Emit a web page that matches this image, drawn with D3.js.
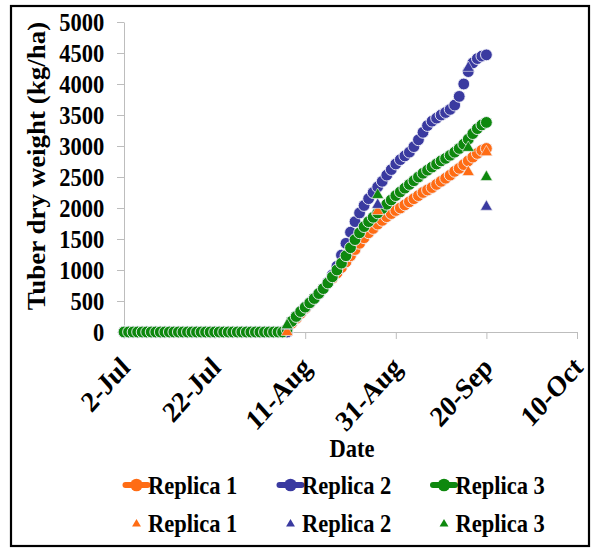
<!DOCTYPE html>
<html><head><meta charset="utf-8">
<script src="https://cdn.jsdelivr.net/npm/d3@7"></script>
<style>body{margin:0;background:#fff}svg{display:block}
svg text{font-family:"Liberation Serif",serif !important;font-weight:bold}</style>
</head><body><svg id="c" width="592" height="548"></svg>
<script>
// ---- data ----
const startDate = "2-Jul-2015";   // first daily value
const replica1 = [0,0,0,0,0,0,0,0,0,0,0,0,0,0,0,0,0,0,0,0,0,0,0,0,0,0,0,0,0,0,0,0,0,0,0,0,
  0,140,220,300,380,460,540,620,700,790,870,
  950,1040,1130,1230,1330,1430,1520,1600,1670,1740,
  1800,1860,1910,1960,2000,2050,2100,2150,2200,2250,
  2290,2330,2380,2430,2480,2530,2590,2640,2700,2760,
  2820,2880,2930,2960];
const replica2 = [0,0,0,0,0,0,0,0,0,0,0,0,0,0,0,0,0,0,0,0,0,0,0,0,0,0,0,0,0,0,0,0,0,0,0,0,
  0,170,250,330,400,470,540,620,700,800,920,
  1060,1240,1430,1610,1780,1920,2040,2150,2250,2340,
  2430,2530,2620,2710,2780,2840,2900,2990,3100,3220,
  3330,3400,3450,3500,3540,3590,3660,3800,4000,4200,
  4340,4410,4450,4470];
const replica3 = [0,0,0,0,0,0,0,0,0,0,0,0,0,0,0,0,0,0,0,0,0,0,0,0,0,0,0,0,0,0,0,0,0,0,0,0,
  40,170,250,330,400,470,540,620,700,790,890,
  1000,1110,1230,1360,1490,1600,1700,1780,1850,1920,
  1990,2060,2130,2200,2260,2320,2380,2440,2500,2560,
  2610,2660,2710,2760,2800,2850,2900,2960,3030,3110,
  3200,3280,3340,3380];
const measDates = ["7-Aug-2015","27-Aug-2015","16-Sep-2015","20-Sep-2015"];
const measured1 = [0,1950,2580,2900];
const measured2 = [100,2050,4260,2020];
const measured3 = [110,2210,2970,2500];
const xTickLabels = ["2-Jul","22-Jul","11-Aug","31-Aug","20-Sep","10-Oct"];
const yTicks = [0,500,1000,1500,2000,2500,3000,3500,4000,4500,5000];
const seriesNames = ["Replica 1","Replica 2","Replica 3"];
const seriesColors = ["#FF6C14","#3A3AA0","#0E880E"];
const yTitle = "Tuber dry weight (kg/ha)";
const xTitle = "Date";

// ---- setup ----
const parse = d3.utcParse("%d-%b-%Y");
const svg = d3.select("#c");
const FONT = "Liberation Serif, serif";
const SQ = 0.9; // horizontal squeeze of text seen in reference

svg.append("rect").attr("x",11).attr("y",6).attr("width",578).attr("height",540)
  .attr("fill","none").attr("stroke","#000").attr("stroke-width",2.2);

const x = d3.scaleUtc()
  .domain([parse(xTickLabels[0]+"-2015"), parse(xTickLabels[xTickLabels.length-1]+"-2015")])
  .range([124,577]);
const y = d3.scaleLinear().domain([0,5000]).range([332,22]);

// y axis
const gy = svg.append("g").attr("transform","translate(124,0)")
  .call(d3.axisLeft(y).tickValues(yTicks).tickFormat(d3.format("d"))
    .tickSize(7).tickPadding(15).tickSizeOuter(0));
gy.attr("font-family",FONT);
gy.select(".domain").attr("stroke","#BDBDBD");
gy.selectAll(".tick line").attr("stroke","#BDBDBD");
gy.selectAll(".tick text").attr("font-family",FONT).attr("font-weight","bold")
  .attr("font-size",25).attr("fill","#000").attr("dy","0.34em")
  .attr("transform",`scale(${SQ},1)`);

// x axis
const xTickDates = xTickLabels.map(s => parse(s+"-2015"));
const gx = svg.append("g").attr("transform","translate(0,332)")
  .call(d3.axisBottom(x).tickValues(xTickDates).tickSize(7).tickSizeOuter(0).tickFormat((d,i)=>xTickLabels[i]));
gx.attr("font-family",FONT);
gx.select(".domain").attr("stroke","#BDBDBD");
gx.selectAll(".tick line").attr("stroke","#BDBDBD");
gx.selectAll(".tick text").attr("font-family",FONT).attr("font-weight","bold")
  .attr("font-size",29).attr("fill","#000").attr("text-anchor","end")
  .attr("x",0).attr("y",0).attr("dy",0)
  .attr("transform",`translate(7,37) scale(${SQ},1) rotate(-45)`);

// titles
svg.append("text").attr("transform",`translate(45,166) rotate(-90) scale(1,${SQ})`)
  .attr("text-anchor","middle").attr("font-family",FONT).attr("font-weight","bold")
  .attr("font-size",27).text(yTitle);
svg.append("text").attr("transform",`translate(352,457) scale(${SQ},1)`)
  .attr("text-anchor","middle").attr("font-family",FONT).attr("font-weight","bold")
  .attr("font-size",25).text(xTitle);

// circle series
const start = parse(startDate);
const series = [replica1, replica2, replica3];
series.forEach((vals,si) => {
  svg.append("g").selectAll("circle").data(vals).join("circle")
    .attr("cx",(d,i)=>x(d3.utcDay.offset(start,i)))
    .attr("cy",d=>y(d))
    .attr("r",5.9)
    .attr("fill",seriesColors[si])
    .attr("stroke","#f2f2f8").attr("stroke-width",0.9);
});

// measured triangles
const md = measDates.map(parse);
const tri = d3.symbol().type(d3.symbolTriangle).size(62);
[measured1, measured2, measured3].forEach((vals,si) => {
  svg.append("g").selectAll("path").data(vals).join("path")
    .attr("d",tri)
    .attr("transform",(d,i)=>`translate(${x(md[i])},${y(d)})`)
    .attr("fill",seriesColors[si])
    .attr("stroke","#f4f4f4").attr("stroke-width",0.6);
});

// legend
const legX = [136.5, 290.5, 444];
seriesNames.forEach((name,si) => {
  const g = svg.append("g");
  g.append("line").attr("x1",legX[si]-11).attr("x2",legX[si]+11)
    .attr("y1",485).attr("y2",485).attr("stroke",seriesColors[si]).attr("stroke-width",6)
    .attr("stroke-linecap","round");
  g.append("circle").attr("cx",legX[si]).attr("cy",485).attr("r",6.3).attr("fill",seriesColors[si]);
  g.append("text").attr("transform",`translate(${legX[si]+11.5},494) scale(${SQ},1)`)
    .attr("font-family",FONT).attr("font-weight","bold").attr("font-size",25).text(name);
  g.append("path").attr("d",d3.symbol().type(d3.symbolTriangle).size(34))
    .attr("transform",`translate(${legX[si]},524)`).attr("fill",seriesColors[si]);
  g.append("text").attr("transform",`translate(${legX[si]+11.5},532) scale(${SQ},1)`)
    .attr("font-family",FONT).attr("font-weight","bold").attr("font-size",25).text(name);
});
</script></body></html>
